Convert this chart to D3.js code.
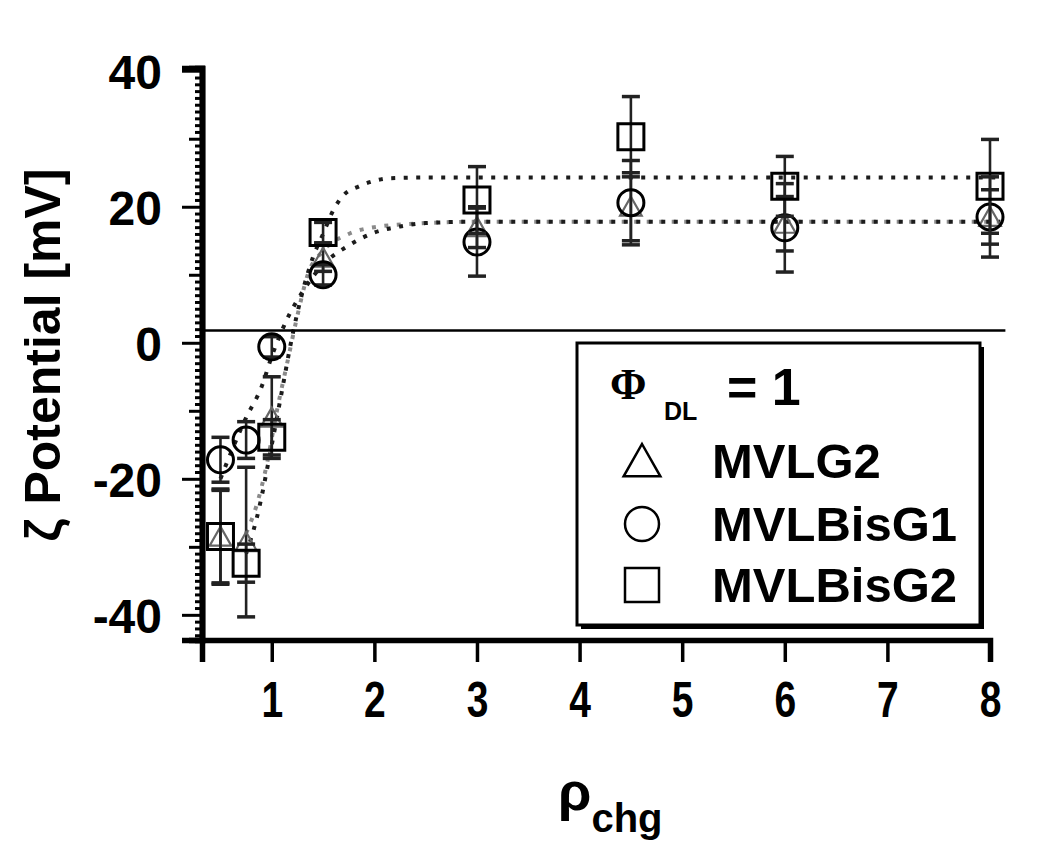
<!DOCTYPE html>
<html>
<head>
<meta charset="utf-8">
<script src="https://cdn.jsdelivr.net/npm/d3@7"></script>
<style>
  body { margin: 0; background: #fff; }
  text { font-family: "Liberation Sans", Arial, sans-serif; font-weight: bold; fill: #000; }
</style>
</head>
<body>
<div id="chart"></div>
<script>
// measured x positions (rho_chg)
var xVals = [0.5, 0.75, 1, 1.5, 3, 4.5, 6, 8];

// zeta potential means and error bars (mV)
var mvlg2 = [-28.5, -29.3, -11, 12.5, 17, 20, 17.5, 18.5];
var mvlg2Err = [7, 11, 6, 2, 3, 5, 4, 4];
var bisG1 = [-17.2, -14.3, -0.6, 10, 14.8, 20.6, 16.9, 18.5];
var bisG1Err = [3.3, 2.7, 1.5, 1.5, 5, 6.2, 6.5, 5.9];
var bisG2 = [-28.5, -32.4, -13.9, 16.2, 21, 30.3, 23, 23];
var bisG2Err = [6.8, 2.8, 2.6, 1.5, 4.9, 5.9, 4.4, 6.9];

// dotted fit curves
var fitG2x = [0.75, 0.85, 0.95, 1.05, 1.15, 1.25, 1.35, 1.5, 1.75, 2, 2.5, 3, 8.1];
var fitG2y = [-28, -24, -18, -10, -3, 4, 10, 13.5, 16, 17, 17.6, 17.8, 17.8];
var fitBisG1x = [0.5, 0.75, 0.9, 1, 1.15, 1.3, 1.5, 1.75, 2, 2.25, 2.5, 3, 8.1];
var fitBisG1y = [-20, -11, -6.5, -2, 3.5, 7.5, 11.5, 14.3, 16.2, 17.1, 17.6, 17.8, 17.8];
var fitBisG2x = [0.75, 0.85, 1, 1.1, 1.2, 1.3, 1.4, 1.5, 1.6, 1.7, 1.85, 2, 2.15, 2.5, 8.1];
var fitBisG2y = [-31, -26, -15, -7, 1, 7.5, 12.5, 16, 19.5, 21.7, 23, 23.8, 24.2, 24.3, 24.3];

// ticks
var xTicks = [1, 2, 3, 4, 5, 6, 7, 8];
var yMajor = [-40, -20, 0, 20, 40];
var yMid = [-30, -10, 10, 30];
var yMinor = d3.range(-43, 41).filter(function(v) { return v % 10 !== 0; });
var refLine = 1.8;

var legendNames = ["MVLG2", "MVLBisG1", "MVLBisG2"];

var svgWidth = 1050, svgHeight = 851;

var svg = d3.select("#chart").append("svg")
  .attr("width", svgWidth)
  .attr("height", svgHeight);

svg.append("rect").attr("width", svgWidth).attr("height", svgHeight).attr("fill", "#fff");

var x = d3.scaleLinear().domain([0.32, 8]).range([202, 990]);
var y = d3.scaleLinear().domain([-43.7, 40.4]).range([640, 68]);

// fit curves
var line = d3.line().x(d => x(d[0])).y(d => y(d[1])).curve(d3.curveMonotoneX);
function fitPts(xs, ys) { return xs.map((v, i) => [v, ys[i]]); }

svg.append("path")
  .attr("d", line(fitPts(fitG2x, fitG2y)))
  .attr("fill", "none").attr("stroke", "#8a8a8a").attr("stroke-width", 4)
  .attr("stroke-dasharray", "4 8.5");
svg.append("path")
  .attr("d", line(fitPts(fitBisG1x, fitBisG1y)))
  .attr("fill", "none").attr("stroke", "#1c1c1c").attr("stroke-width", 4)
  .attr("stroke-dasharray", "4 8.5");
svg.append("path")
  .attr("d", line(fitPts(fitBisG2x, fitBisG2y)))
  .attr("fill", "none").attr("stroke", "#1c1c1c").attr("stroke-width", 4)
  .attr("stroke-dasharray", "4 8.5");

// reference line
svg.append("line")
  .attr("x1", x(0.32)).attr("x2", x(8.15))
  .attr("y1", y(refLine)).attr("y2", y(refLine))
  .attr("stroke", "#000").attr("stroke-width", 2.5);

// error bars + markers
function drawSeries(means, errs, shape, size, color, sw) {
  var g = svg.append("g");
  var pts = xVals.map((v, i) => ({ x: v, m: means[i], e: errs[i] }));
  g.selectAll("line.bar").data(pts).enter().append("line")
    .attr("x1", d => x(d.x)).attr("x2", d => x(d.x))
    .attr("y1", d => y(d.m + d.e)).attr("y2", d => y(d.m - d.e))
    .attr("stroke", "#222").attr("stroke-width", 2.6);
  [1, -1].forEach(function(s) {
    g.selectAll("line.cap" + s).data(pts).enter().append("line")
      .attr("x1", d => x(d.x) - 9).attr("x2", d => x(d.x) + 9)
      .attr("y1", d => y(d.m + s * d.e)).attr("y2", d => y(d.m + s * d.e))
      .attr("stroke", "#222").attr("stroke-width", 3.5);
  });
  g.selectAll("path.mk").data(pts).enter().append("path")
    .attr("transform", d => `translate(${x(d.x)},${y(d.m)})`)
    .attr("d", shape(size))
    .attr("fill", "none").attr("stroke", color).attr("stroke-width", sw);
}

function triPath(r) {
  return `M0,${-r} L${r * 1.08},${r * 0.9} L${-r * 1.08},${r * 0.9} Z`;
}
function circPath(r) {
  return `M${r},0 A${r},${r} 0 1,1 ${-r},0 A${r},${r} 0 1,1 ${r},0 Z`;
}
function sqPath(r) {
  return `M${-r},${-r} H${r} V${r} H${-r} Z`;
}

drawSeries(mvlg2, mvlg2Err, triPath, 10, "#666", 2.2);
drawSeries(bisG1, bisG1Err, circPath, 13, "#000", 3);
drawSeries(bisG2, bisG2Err, sqPath, 13, "#000", 3);

// y axis: major, mid, minor ticks
var yAxisG = svg.append("g").attr("transform", `translate(${x(0.32)},0)`);
yAxisG.append("g").call(d3.axisLeft(y).tickValues(yMinor).tickSize(7).tickFormat(""));
yAxisG.append("g").call(d3.axisLeft(y).tickValues(yMid).tickSize(13).tickFormat(""));
var yMajG = yAxisG.append("g").call(d3.axisLeft(y).tickValues(yMajor).tickSize(20).tickPadding(20).tickFormat(d => String(d)));
yAxisG.selectAll("path.domain").attr("stroke-width", 5.5);
yAxisG.selectAll(".tick line").attr("stroke-width", 3);
yMajG.selectAll("text").style("font-size", "48px").attr("dy", "0.36em");

// x axis
var xAxisG = svg.append("g").attr("transform", `translate(0,${y(-43.7)})`)
  .call(d3.axisBottom(x).tickValues(xTicks).tickSizeOuter(0).tickSize(22).tickPadding(20));
xAxisG.select("path.domain").attr("stroke-width", 5.5);
xAxisG.selectAll(".tick line").attr("stroke-width", 3.5);
xAxisG.selectAll("text")
  .style("font-size", "50px")
  .attr("transform", "scale(0.78,1)");

// y axis title
svg.append("text")
  .attr("transform", "translate(60,355) rotate(-90)")
  .attr("text-anchor", "middle")
  .style("font-size", "50px")
  .text("ζ Potential [mV]");

// x axis title
var xt = svg.append("text").attr("x", 558).attr("y", 810).style("font-size", "54px");
xt.append("tspan").text("ρ");
xt.append("tspan").attr("dy", 22).style("font-size", "40px").text("chg");

// legend
var lg = svg.append("g");
lg.append("rect").attr("x", 581).attr("y", 347).attr("width", 403).attr("height", 282).attr("fill", "#000");
lg.append("rect").attr("x", 577).attr("y", 343).attr("width", 403).attr("height", 282)
  .attr("fill", "#fff").attr("stroke", "#000").attr("stroke-width", 3);

var phi = lg.append("text").attr("x", 610).attr("y", 399);
phi.append("tspan").style("font-family", "'Liberation Serif', 'Times New Roman', serif").style("font-size", "44px").text("Φ");
phi.append("tspan").attr("x", 664).attr("y", 420).style("font-size", "25px").text("DL");
lg.append("text").attr("x", 727).attr("y", 405).style("font-size", "52px").text("= 1");

var legendShapes = [triPath, circPath, sqPath];
var legendY = [461, 524, 585];
legendNames.forEach(function(name, i) {
  lg.append("path")
    .attr("transform", `translate(642,${legendY[i]})`)
    .attr("d", legendShapes[i](17))
    .attr("fill", "none").attr("stroke", "#000").attr("stroke-width", 2.5);
  lg.append("text").attr("x", 712).attr("y", legendY[i] + 17).style("font-size", "49px").text(name);
});
</script>
</body>
</html>
